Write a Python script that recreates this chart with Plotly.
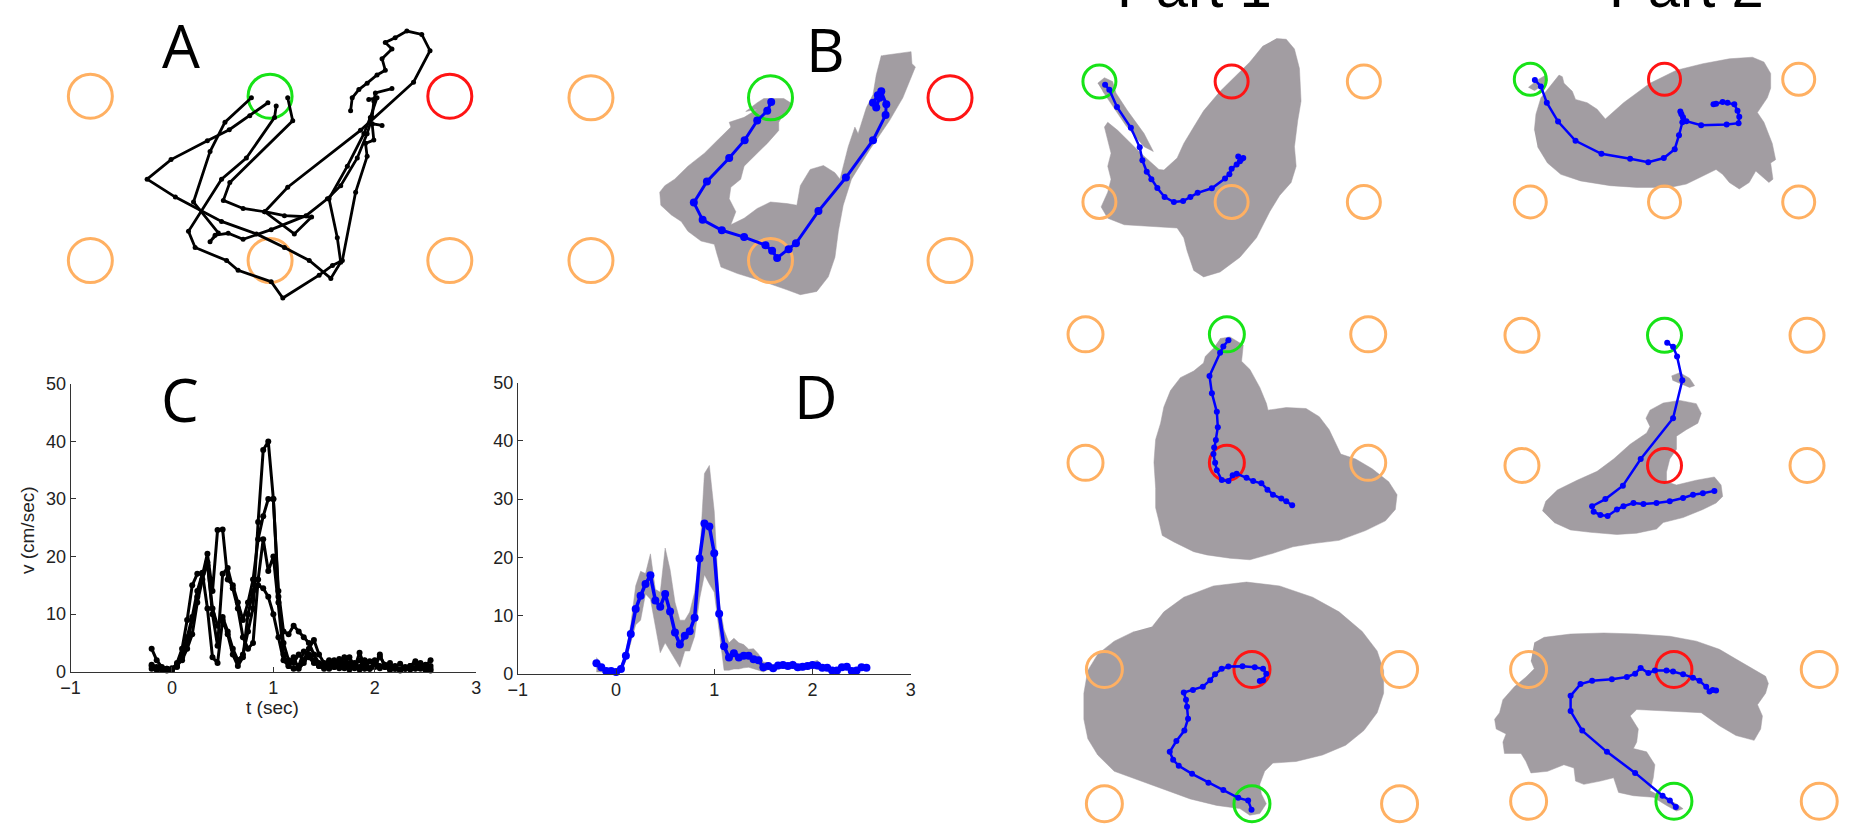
import plotly.graph_objects as go

W, H = 1854, 833

# ---------------- velocity data (panels C, D) ----------------
T = [-0.2, -0.15, -0.1, -0.05, 0.0, 0.05, 0.1, 0.15, 0.2, 0.25, 0.3, 0.35, 0.4, 0.45,
     0.5, 0.55, 0.6, 0.65, 0.7, 0.75, 0.8, 0.85, 0.9, 0.95, 1.0, 1.05, 1.1, 1.15, 1.2,
     1.25, 1.3, 1.35, 1.4, 1.45, 1.5, 1.55, 1.6, 1.65, 1.7, 1.75, 1.8, 1.85, 1.9, 1.95,
     2.0, 2.05, 2.1, 2.15, 2.2, 2.25, 2.3, 2.35, 2.4, 2.45, 2.5, 2.55]

C_trial1 = [4.0, 2.0, 0.8, 0.5, 0.3, 1.0, 3.0, 6.0, 9.5, 14.0, 17.0, 18.5, 11.0, 8.0, 9.5, 7.0,
            4.0, 2.0, 3.0, 7.0, 11.0, 26.0, 38.5, 40.0, 30.0, 14.0, 7.0, 6.5, 8.0, 7.0, 6.0,
            5.0, 3.0, 1.5, 1.0, 2.0, 0.8, 1.2, 2.5, 1.0, 0.6, 3.3, 1.0, 0.5, 2.0, 1.0, 0.8,
            1.5, 0.5, 0.3, 0.5, 1.0, 1.5, 0.5, 1.0, 2.0]
C_trial2 = [1.0, 0.5, 0.3, 0.5, 0.4, 0.8, 2.5, 5.0, 9.0, 13.0, 17.0, 20.5, 14.0, 24.6, 24.7,
            16.0, 15.0, 12.0, 9.0, 12.0, 16.0, 23.0, 27.0, 30.0, 30.0, 13.0, 5.0, 2.0, 1.5,
            3.0, 2.0, 4.0, 5.5, 3.0, 1.5, 1.0, 2.0, 0.6, 1.5, 2.5, 1.0, 2.0, 0.5, 1.8, 1.0,
            2.6, 1.2, 0.6, 0.8, 1.4, 0.5, 1.0, 1.8, 0.7, 1.2, 0.5]
C_trial3 = [1.2, 0.8, 0.5, 0.3, 0.6, 1.2, 2.0, 4.0, 6.5, 12.0, 16.0, 19.0, 10.0, 4.5, 17.0,
            18.0, 14.5, 11.0, 6.0, 4.0, 5.0, 16.0, 23.0, 17.5, 20.0, 12.0, 3.0, 1.0, 0.5,
            1.0, 3.5, 2.5, 1.5, 1.0, 0.5, 1.8, 0.8, 2.2, 1.0, 0.4, 1.5, 0.8, 2.0, 0.6, 1.0,
            3.0, 0.8, 0.5, 1.0, 0.4, 0.6, 0.9, 0.5, 1.5, 0.6, 1.0]
C_trial4 = [0.5, 0.3, 0.6, 0.2, 0.3, 1.5, 4.0, 9.0, 15.0, 17.0, 17.2, 11.0, 2.5, 1.5, 9.0,
            6.5, 3.0, 1.0, 2.5, 10.0, 14.0, 15.0, 14.5, 13.0, 10.0, 6.0, 2.0, 1.0, 2.5, 0.5,
            1.5, 3.0, 2.0, 1.0, 0.8, 0.5, 1.2, 0.8, 0.6, 1.5, 0.9, 0.4, 1.1, 0.5, 0.8, 0.6,
            1.0, 0.3, 0.5, 0.2, 0.8, 0.4, 0.6, 1.0, 0.3, 0.2]

D_mean = [1.8, 1.1, 0.45, 0.45, 0.3, 0.8, 3.1, 6.8, 11.1, 13.4, 15.4, 16.9, 12.6, 11.5, 13.7,
          10.7, 7.1, 5.0, 6.5, 7.3, 9.6, 19.8, 25.8, 25.3, 20.7, 10.3, 4.7, 2.8, 3.5, 2.8,
          3.1, 3.1, 2.5, 2.3, 1.1, 1.3, 0.95, 1.4, 1.5, 1.3, 1.5, 1.1, 1.2, 1.3, 1.5, 1.4,
          1.0, 1.0, 0.55, 0.55, 1.1, 1.2, 0.45, 0.55, 1.1, 1.0]
D_upper = [2.8, 1.6, 0.9, 0.8, 0.6, 1.3, 3.8, 8.5, 15.1, 17.6, 17.2, 20.6, 14.5, 14.0, 21.6,
           17.9, 12.3, 9.2, 9.2, 10.6, 14.0, 20.0, 34.4, 35.8, 27.9, 12.3, 7.5, 5.3, 6.1,
           5.3, 5.0, 4.2, 4.3, 3.4, 2.0, 1.9, 1.5, 1.9, 2.0, 1.8, 2.2, 1.6, 1.7, 1.8, 2.0,
           2.3, 1.4, 1.4, 0.9, 0.9, 1.5, 1.6, 0.8, 0.9, 1.4, 1.3]
D_lower = [0.3, 0.3, 0.1, 0.1, 0.0, 0.3, 2.2, 5.5, 8.4, 9.2, 13.7, 12.8, 8.0, 3.6, 5.3, 3.9,
           2.5, 1.1, 3.9, 3.9, 6.4, 12.8, 17.0, 15.4, 14.0, 7.8, 0.6, 0.6, 0.8, 0.8, 1.0,
           1.1, 0.8, 0.6, 0.3, 0.7, 0.4, 0.8, 0.9, 0.8, 0.9, 0.5, 0.6, 0.7, 0.9, 0.8, 0.5,
           0.5, 0.2, 0.2, 0.6, 0.7, 0.1, 0.2, 0.7, 0.6]

V_TICKS = [0, 10, 20, 30, 40, 50]
T_TICKS = [-1, 0, 1, 2, 3]

# ---------------- target grid (units: target spacing) ----------------
TARGET_X = [0, 1, 2, 0, 1, 2]
TARGET_Y = [1, 1, 1, 0, 0, 0]

# ---------------- panel A: single trials ----------------
A_trial1_x = [0.896, 0.749, 0.666, 0.574, 0.712, 0.666, 0.694, 0.767, 0.850, 1.006, 1.200,
              1.319, 1.393, 1.485, 1.540, 1.568, 1.577, 1.586, 1.678]
A_trial1_y = [0.990, 0.842, 0.663, 0.356, 0.168, 0.115, 0.154, 0.166, 0.129, 0.188, 0.273,
              0.376, 0.455, 0.624, 0.772, 0.871, 0.970, 1.020, 1.046]
A_trial2_x = [0.988, 0.887, 0.773, 0.651, 0.449, 0.316, 0.473, 0.730, 0.924, 1.080, 1.218,
              1.338, 1.393, 1.374, 1.328, 1.430, 1.522, 1.558, 1.595, 1.549]
A_trial2_y = [0.960, 0.881, 0.796, 0.729, 0.614, 0.495, 0.386, 0.238, 0.162, 0.079, 0.000,
              -0.109, -0.010, 0.139, 0.376, 0.574, 0.772, 0.871, 0.990, 0.980]
A_trial3_x = [1.034, 1.025, 0.868, 0.730, 0.546, 0.583, 0.758, 0.822, 1.006, 1.071, 1.273,
              1.347, 1.402, 1.476, 1.540, 1.531, 1.577, 1.568, 1.623]
A_trial3_y = [0.941, 0.871, 0.624, 0.495, 0.178, 0.079, 0.000, -0.059, -0.129, -0.228,
              -0.089, -0.030, 0.000, 0.416, 0.634, 0.713, 0.733, 0.832, 0.822]
A_trial4_x = [1.098, 1.126, 0.776, 0.740, 0.850, 0.970, 1.135, 1.231, 1.080, 0.970, 1.098,
              1.503, 1.798, 1.890, 1.844, 1.761, 1.696, 1.641, 1.678, 1.623, 1.641, 1.595,
              1.540, 1.494, 1.457, 1.448]
A_trial4_y = [0.990, 0.851, 0.475, 0.366, 0.317, 0.297, 0.162, 0.265, 0.273, 0.297, 0.446,
              0.792, 1.085, 1.277, 1.376, 1.396, 1.356, 1.327, 1.287, 1.228, 1.158, 1.129,
              1.079, 1.040, 0.990, 0.911]

# ---------------- panel B: mean path and spread ----------------
B_mean_x = [1.004, 0.982, 0.926, 0.856, 0.770, 0.646, 0.573, 0.622, 0.729, 0.853, 0.972,
            1.009, 1.037, 1.101, 1.142, 1.267, 1.420, 1.571, 1.641, 1.645, 1.617, 1.598,
            1.571, 1.589, 1.608]
B_mean_y = [0.974, 0.920, 0.860, 0.740, 0.630, 0.486, 0.356, 0.250, 0.186, 0.144, 0.094,
            0.060, 0.016, 0.070, 0.106, 0.304, 0.510, 0.740, 0.894, 0.960, 1.040, 1.016,
            0.970, 0.940, 1.000]
B_area_x = [1.626, 1.783, 1.788, 1.807, 1.737, 1.663, 1.552, 1.451, 1.405, 1.378, 1.359,
            1.322, 1.258, 1.166, 1.092, 0.963, 0.816, 0.724, 0.702, 0.687, 0.613, 0.540,
            0.503, 0.448, 0.389, 0.383, 0.411, 0.466, 0.540, 0.632, 0.696, 0.779, 0.770,
            0.853, 0.926, 0.862, 0.926, 0.963, 1.074, 1.125, 1.074, 1.046, 1.046, 0.982,
            0.926, 0.853, 0.834, 0.779, 0.770, 0.807, 0.779, 0.853, 0.926, 1.000, 1.092,
            1.147, 1.166, 1.221, 1.295, 1.359, 1.387, 1.433, 1.470, 1.488, 1.534, 1.571,
            1.589, 1.617]
B_area_y = [1.260, 1.284, 1.210, 1.190, 1.000, 0.860, 0.680, 0.500, 0.340, 0.180, 0.020,
            -0.100, -0.190, -0.210, -0.180, -0.130, -0.080, -0.040, 0.040, 0.100, 0.120,
            0.180, 0.240, 0.280, 0.340, 0.420, 0.460, 0.500, 0.580, 0.660, 0.730, 0.820,
            0.850, 0.880, 0.930, 0.916, 0.970, 0.996, 0.996, 0.960, 0.900, 0.850, 0.800,
            0.720, 0.660, 0.580, 0.500, 0.450, 0.380, 0.300, 0.220, 0.260, 0.320, 0.360,
            0.350, 0.340, 0.460, 0.560, 0.584, 0.540, 0.500, 0.700, 0.820, 0.780, 0.940,
            1.020, 1.140, 1.260]

# ---------------- right column panels ----------------
P11_mean_x = [0.043, 0.075, 0.133, 0.238, 0.305, 0.325, 0.358, 0.393, 0.438, 0.493, 0.563,
              0.633, 0.688, 0.743, 0.850, 0.950, 0.983, 1.000, 1.038, 1.063, 1.088, 1.050,
              1.075]
P11_mean_y = [0.973, 0.932, 0.789, 0.616, 0.454, 0.346, 0.251, 0.189, 0.116, 0.041, 0.000,
              0.008, 0.041, 0.076, 0.114, 0.195, 0.230, 0.276, 0.311, 0.338, 0.365, 0.378,
              0.357]
P11_area_x = [1.338, 1.413, 1.475, 1.513, 1.525, 1.500, 1.475, 1.488, 1.450, 1.363, 1.288,
              1.188, 1.063, 0.913, 0.788, 0.713, 0.663, 0.638, 0.588, 0.388, 0.188, 0.063,
              0.013, 0.063, 0.088, 0.063, 0.088, 0.038, 0.063, 0.138, 0.313, 0.450, 0.488,
              0.588, 0.638, 0.713, 0.788, 0.913, 1.013, 1.138, 1.238]
P11_area_y = [1.357, 1.351, 1.270, 1.108, 0.838, 0.676, 0.459, 0.297, 0.162, 0.054, -0.081,
              -0.297, -0.459, -0.581, -0.622, -0.568, -0.405, -0.297, -0.216, -0.203, -0.189,
              -0.135, -0.041, 0.081, 0.189, 0.297, 0.405, 0.622, 0.662, 0.595, 0.405, 0.270,
              0.265, 0.365, 0.486, 0.622, 0.757, 0.919, 1.027, 1.162, 1.297]
P11_strip_x = [-0.013, 0.038, 0.100, 0.125, 0.213, 0.338, 0.408, 0.338, 0.200, 0.088, 0.025]
P11_strip_y = [0.986, 1.032, 1.000, 0.905, 0.757, 0.568, 0.419, 0.459, 0.635, 0.811, 0.919]

P12_mean_x = [0.034, 0.079, 0.123, 0.207, 0.337, 0.530, 0.744, 0.879, 0.995, 1.076, 1.108,
              1.133, 1.126, 1.118, 1.138, 1.163, 1.273, 1.463, 1.552, 1.557, 1.544, 1.520,
              1.470, 1.433, 1.384, 1.365]
P12_mean_y = [0.995, 0.942, 0.809, 0.655, 0.499, 0.393, 0.353, 0.324, 0.358, 0.430, 0.544,
              0.650, 0.716, 0.737, 0.690, 0.658, 0.626, 0.631, 0.642, 0.695, 0.743, 0.796,
              0.809, 0.814, 0.801, 0.796]
P12_area_x = [0.030, 0.042, 0.079, 0.153, 0.214, 0.239, 0.251, 0.313, 0.337, 0.424, 0.498,
              0.559, 0.695, 0.892, 1.089, 1.286, 1.483, 1.655, 1.741, 1.791, 1.791, 1.766,
              1.692, 1.741, 1.778, 1.803, 1.828, 1.791, 1.808, 1.778, 1.680, 1.631, 1.557,
              1.483, 1.433, 1.384, 1.286, 1.163, 1.039, 0.793, 0.596, 0.374, 0.227, 0.128,
              0.054]
P12_area_y = [0.584, 0.716, 0.849, 0.955, 1.034, 1.021, 0.968, 0.902, 0.836, 0.809, 0.756,
              0.676, 0.809, 0.968, 1.074, 1.127, 1.167, 1.180, 1.141, 1.048, 0.928, 0.849,
              0.729, 0.650, 0.544, 0.477, 0.345, 0.318, 0.186, 0.159, 0.252, 0.159, 0.106,
              0.159, 0.225, 0.265, 0.212, 0.146, 0.119, 0.119, 0.133, 0.172, 0.225, 0.318,
              0.451]
P12_spike_x = [-0.015, 0.054, 0.116, 0.128, 0.079, 0.030]
P12_spike_y = [0.934, 0.995, 1.034, 0.987, 0.942, 0.907]

P21_mean_x = [1.011, 0.975, 0.952, 0.877, 0.894, 0.929, 0.936, 0.922, 0.910, 0.905, 0.917,
              0.929, 0.964, 1.011, 1.041, 1.069, 1.139, 1.186, 1.244, 1.287, 1.326, 1.385,
              1.420, 1.462]
P21_mean_y = [0.954, 0.906, 0.856, 0.676, 0.542, 0.397, 0.278, 0.177, 0.119, 0.068, 0.000,
              -0.058, -0.134, -0.142, -0.096, -0.084, -0.116, -0.142, -0.159, -0.210, -0.248,
              -0.278, -0.299, -0.329]
P21_area_x = [0.952, 1.022, 1.116, 1.104, 1.163, 1.233, 1.280, 1.291, 1.420, 1.560, 1.654,
              1.724, 1.806, 1.911, 2.028, 2.145, 2.204, 2.192, 2.122, 1.981, 1.794, 1.607,
              1.467, 1.326, 1.163, 1.022, 0.858, 0.765, 0.625, 0.543, 0.519, 0.496, 0.496,
              0.484, 0.496, 0.531, 0.554, 0.601, 0.671, 0.765, 0.835, 0.847, 0.905]
P21_area_y = [0.967, 0.980, 0.916, 0.790, 0.727, 0.587, 0.461, 0.410, 0.430, 0.423, 0.359,
              0.258, 0.068, 0.030, -0.046, -0.147, -0.248, -0.362, -0.451, -0.527, -0.603,
              -0.628, -0.653, -0.704, -0.754, -0.742, -0.716, -0.691, -0.615, -0.565, -0.451,
              -0.349, -0.197, 0.005, 0.182, 0.309, 0.435, 0.562, 0.663, 0.714, 0.777, 0.828,
              0.891]

P22_mean_x = [1.019, 1.060, 1.088, 1.125, 1.060, 0.833, 0.708, 0.585, 0.492, 0.503, 0.550,
              0.601, 0.666, 0.712, 0.782, 0.852, 0.944, 1.037, 1.130, 1.200, 1.269, 1.350]
P22_mean_y = [0.943, 0.913, 0.838, 0.655, 0.363, 0.050, -0.155, -0.258, -0.313, -0.355,
              -0.380, -0.388, -0.338, -0.313, -0.288, -0.295, -0.288, -0.275, -0.250, -0.225,
              -0.213, -0.195]
P22_area_x = [0.144, 0.167, 0.248, 0.387, 0.527, 0.643, 0.759, 0.875, 0.898, 0.870, 0.898,
              0.991, 1.107, 1.223, 1.258, 1.234, 1.153, 1.084, 1.084, 1.037, 1.014, 1.014,
              1.084, 1.223, 1.350, 1.397, 1.408, 1.362, 1.269, 1.130, 0.991, 0.944, 0.805,
              0.666, 0.480, 0.341, 0.225]
P22_area_y = [-0.350, -0.275, -0.188, -0.113, -0.045, 0.050, 0.163, 0.250, 0.300, 0.363,
              0.425, 0.480, 0.500, 0.475, 0.400, 0.325, 0.275, 0.225, 0.125, 0.050, -0.050,
              -0.125, -0.150, -0.113, -0.088, -0.150, -0.238, -0.288, -0.338, -0.400, -0.438,
              -0.488, -0.520, -0.530, -0.513, -0.495, -0.438]
P22_spot_x = [1.049, 1.107, 1.176, 1.211, 1.176, 1.107, 1.056]
P22_spot_y = [0.688, 0.713, 0.670, 0.613, 0.600, 0.630, 0.655]

P31_mean_x = [0.997, 0.974, 0.907, 0.806, 0.705, 0.594, 0.504, 0.466, 0.443, 0.488, 0.542,
              0.567, 0.560, 0.553, 0.538, 0.600, 0.667, 0.717, 0.750, 0.795, 0.840, 0.936,
              1.019, 1.075, 1.097, 1.075, 1.053]
P31_mean_y = [-0.044, 0.024, 0.044, 0.102, 0.157, 0.223, 0.283, 0.327, 0.387, 0.467, 0.545,
              0.634, 0.722, 0.775, 0.828, 0.847, 0.872, 0.920, 0.964, 1.005, 1.022, 1.024,
              1.017, 1.005, 0.969, 0.920, 0.915]
P31_area_x = [0.325, 0.403, 0.538, 0.739, 0.963, 1.187, 1.411, 1.590, 1.747, 1.848, 1.892,
              1.892, 1.848, 1.758, 1.635, 1.478, 1.299, 1.142, 1.086, 1.053, 1.064, 1.097,
              1.053, 0.985, 0.918, 0.761, 0.582, 0.426, 0.246, 0.067, -0.045, -0.112, -0.139,
              -0.139, -0.112, -0.045, 0.067, 0.202]
P31_area_y = [1.320, 1.429, 1.538, 1.622, 1.651, 1.622, 1.538, 1.429, 1.283, 1.138, 0.993,
              0.823, 0.678, 0.545, 0.436, 0.363, 0.315, 0.303, 0.242, 0.145, 0.073, 0.000,
              -0.073, -0.085, -0.036, -0.012, 0.036, 0.097, 0.169, 0.242, 0.363, 0.484, 0.630,
              0.823, 0.993, 1.114, 1.211, 1.283]

P32_mean_x = [1.013, 0.972, 0.922, 0.733, 0.539, 0.369, 0.289, 0.289, 0.357, 0.437, 0.573,
              0.676, 0.733, 0.771, 0.824, 0.869, 0.949, 0.994, 1.063, 1.131, 1.176, 1.222,
              1.245, 1.267, 1.290]
P32_mean_y = [-0.044, 0.005, 0.042, 0.215, 0.375, 0.536, 0.684, 0.800, 0.889, 0.914, 0.926,
              0.943, 0.968, 1.012, 0.973, 0.993, 0.993, 0.985, 0.963, 0.938, 0.914, 0.869,
              0.832, 0.844, 0.840]
P32_area_x = [0.039, 0.107, 0.289, 0.517, 0.744, 0.972, 1.154, 1.313, 1.427, 1.540, 1.631,
              1.650, 1.631, 1.575, 1.609, 1.597, 1.552, 1.427, 1.313, 1.188, 0.972, 0.744,
              0.699, 0.755, 0.744, 0.721, 0.812, 0.869, 0.858, 0.835, 0.881, 1.017, 1.063,
              1.017, 0.949, 0.858, 0.721, 0.619, 0.585, 0.494, 0.380, 0.323, 0.312, 0.243,
              0.130, 0.016, -0.018, -0.052, -0.166, -0.177, -0.155, -0.223, -0.234, -0.200,
              -0.177, -0.098, -0.018, 0.039, 0.016]
P32_area_y = [1.202, 1.244, 1.269, 1.277, 1.269, 1.252, 1.215, 1.153, 1.079, 1.005, 0.948,
              0.894, 0.820, 0.733, 0.647, 0.548, 0.462, 0.499, 0.573, 0.672, 0.684, 0.696,
              0.647, 0.548, 0.449, 0.400, 0.375, 0.277, 0.178, 0.079, 0.054, -0.020, -0.057,
              -0.074, -0.032, 0.030, 0.042, 0.067, 0.178, 0.153, 0.128, 0.153, 0.252, 0.277,
              0.227, 0.215, 0.301, 0.363, 0.363, 0.449, 0.511, 0.548, 0.622, 0.672, 0.770,
              0.869, 0.943, 1.005, 1.067]

# ---------------- styling / layout ----------------
ORANGE = "#ffb062"
GREEN = "#17e317"
RED = "#ff1414"
GREY = "#a29da2"
BLUE = "#0000ff"
AX = "#333333"

COLORS_TOP_START = [ORANGE, GREEN, RED, ORANGE, ORANGE, ORANGE]
COLORS_CORNER = [GREEN, RED, ORANGE, ORANGE, ORANGE, ORANGE]
COLORS_MID = [ORANGE, GREEN, ORANGE, ORANGE, RED, ORANGE]
COLORS_LOW = [ORANGE, RED, ORANGE, ORANGE, GREEN, ORANGE]

# panel boxes in pixels: (x0, x1, y0, y1), grid column-0 x, column spacing, top row y, bottom row y
PANELS = {
    1: dict(box=(0, 520, 0, 320), c0=81, sx=181.2, rt=88.3, rb=256.7, ring=44, colors=COLORS_TOP_START),
    2: dict(box=(520, 1040, 0, 320), c0=585.7, sx=181.0, rt=90.0, rb=256.7, ring=44, colors=COLORS_TOP_START),
    5: dict(box=(1040, 1450, 0, 290), c0=1098.3, sx=133.3, rt=73.3, rb=196.7, ring=33, colors=COLORS_CORNER),
    6: dict(box=(1450, 1854, 0, 290), c0=1532.7, sx=135.3, rt=71.0, rb=196.7, ring=32, colors=COLORS_CORNER),
    7: dict(box=(1040, 1450, 282, 566), c0=1084.3, sx=142.5, rt=332.3, rb=464.0, ring=35, colors=COLORS_MID),
    8: dict(box=(1450, 1854, 282, 566), c0=1524.3, sx=143.7, rt=333.3, rb=466.7, ring=34, colors=COLORS_MID),
    9: dict(box=(1040, 1450, 566, 833), c0=1103.3, sx=148.8, rt=675.7, rb=813.3, ring=36, colors=COLORS_LOW),
    10: dict(box=(1450, 1854, 566, 833), c0=1531.0, sx=146.5, rt=675.7, rb=810.7, ring=36, colors=COLORS_LOW),
}


def ax_names(i):
    return ("x" if i == 1 else f"x{i}", "y" if i == 1 else f"y{i}")


fig = go.Figure()


def add_area(i, xs, ys):
    xa, ya = ax_names(i)
    fig.add_trace(go.Scatter(x=xs, y=ys, mode="lines", fill="toself", fillcolor=GREY,
                             line=dict(color=GREY, width=0.5), xaxis=xa, yaxis=ya,
                             hoverinfo="skip"))


def add_targets(i):
    xa, ya = ax_names(i)
    p = PANELS[i]
    fig.add_trace(go.Scatter(x=TARGET_X, y=TARGET_Y, mode="markers", xaxis=xa, yaxis=ya,
                             cliponaxis=False,
                             marker=dict(symbol="circle-open", size=p["ring"], color=p["colors"],
                                         line=dict(width=3, color=p["colors"]))))


def add_path(i, xs, ys, color, lw, ms):
    xa, ya = ax_names(i)
    fig.add_trace(go.Scatter(x=xs, y=ys, mode="lines+markers", xaxis=xa, yaxis=ya,
                             cliponaxis=False,
                             line=dict(color=color, width=lw),
                             marker=dict(color=color, size=ms)))


# Panel A
add_targets(1)
for xs, ys in [(A_trial1_x, A_trial1_y), (A_trial2_x, A_trial2_y),
               (A_trial3_x, A_trial3_y), (A_trial4_x, A_trial4_y)]:
    add_path(1, xs, ys, "black", 2.8, 5)

# Panel B
add_area(2, B_area_x, B_area_y)
add_targets(2)
add_path(2, B_mean_x, B_mean_y, BLUE, 3, 8)

# Right panels
add_area(5, P11_area_x, P11_area_y)
add_area(5, P11_strip_x, P11_strip_y)
add_targets(5)
add_path(5, P11_mean_x, P11_mean_y, BLUE, 2.5, 6)

add_area(6, P12_area_x, P12_area_y)
add_area(6, P12_spike_x, P12_spike_y)
add_targets(6)
add_path(6, P12_mean_x, P12_mean_y, BLUE, 2.5, 6)

add_area(7, P21_area_x, P21_area_y)
add_targets(7)
add_path(7, P21_mean_x, P21_mean_y, BLUE, 2.5, 6)

add_area(8, P22_area_x, P22_area_y)
add_area(8, P22_spot_x, P22_spot_y)
add_targets(8)
add_path(8, P22_mean_x, P22_mean_y, BLUE, 2.5, 6)

add_area(9, P31_area_x, P31_area_y)
add_targets(9)
add_path(9, P31_mean_x, P31_mean_y, BLUE, 2.5, 6)

add_area(10, P32_area_x, P32_area_y)
add_targets(10)
add_path(10, P32_mean_x, P32_mean_y, BLUE, 2.5, 6)

# Panel C
for trial in [C_trial1, C_trial2, C_trial3, C_trial4]:
    fig.add_trace(go.Scatter(x=T, y=trial, mode="lines+markers", xaxis="x3", yaxis="y3",
                             cliponaxis=False,
                             line=dict(color="black", width=3), marker=dict(color="black", size=6)))

# Panel D
fig.add_trace(go.Scatter(x=T + T[::-1], y=D_upper + D_lower[::-1], mode="lines", fill="toself",
                         fillcolor=GREY, line=dict(color=GREY, width=0.5),
                         xaxis="x4", yaxis="y4", hoverinfo="skip"))
fig.add_trace(go.Scatter(x=T, y=D_mean, mode="lines+markers", xaxis="x4", yaxis="y4",
                         cliponaxis=False,
                         line=dict(color=BLUE, width=3.5), marker=dict(color=BLUE, size=8)))

layout = dict(width=W, height=H, margin=dict(l=0, r=0, t=0, b=0),
              paper_bgcolor="white", plot_bgcolor="rgba(0,0,0,0)", showlegend=False)

for i, p in PANELS.items():
    x0, x1, y0, y1 = p["box"]
    sy = p["rb"] - p["rt"]
    xr = [(x0 - p["c0"]) / p["sx"], (x1 - p["c0"]) / p["sx"]]
    yr = [(p["rb"] - y1) / sy, (p["rb"] - y0) / sy]
    xk = "xaxis" if i == 1 else f"xaxis{i}"
    yk = "yaxis" if i == 1 else f"yaxis{i}"
    xa, ya = ax_names(i)
    layout[xk] = dict(domain=[x0 / W, x1 / W], range=xr, visible=False, anchor=ya, fixedrange=True)
    layout[yk] = dict(domain=[1 - y1 / H, 1 - y0 / H], range=yr, visible=False, anchor=xa,
                      fixedrange=True)

tickfont = dict(family="Liberation Sans, Arial, sans-serif", size=18, color="#222222")
axis_common = dict(showline=True, linecolor=AX, linewidth=1, ticks="inside", ticklen=5,
                   tickcolor=AX, tickwidth=1, showgrid=False, zeroline=False, tickfont=tickfont,
                   fixedrange=True)

layout["xaxis3"] = dict(domain=[61 / W, 470 / W], range=[-1, 3], tickvals=T_TICKS, anchor="y3",
                        **axis_common)
layout["yaxis3"] = dict(domain=[1 - 678 / H, 1 - 383 / H], range=[0, 50], tickvals=V_TICKS,
                        anchor="x3", **axis_common)
layout["xaxis4"] = dict(domain=[512 / W, 908 / W], range=[-1, 3], tickvals=T_TICKS, anchor="y4",
                        **axis_common)
layout["yaxis4"] = dict(domain=[1 - 680 / H, 1 - 382 / H], range=[0, 50], tickvals=V_TICKS,
                        anchor="x4", **axis_common)

letter_font = dict(family="Open Sans, sans-serif", size=60, color="black")
title_font = dict(family="Liberation Sans, Arial, sans-serif", size=58, color="black")
label_font = dict(family="Liberation Sans, Arial, sans-serif", size=19, color="#222222")

annotations = []
for txt, px, py in [("A", 172, 36), ("B", 822, 40), ("C", 171, 399), ("D", 813, 396)]:
    annotations.append(dict(text=txt, x=px / W, y=1 - py / H, xref="paper", yref="paper",
                            xanchor="center", yanchor="middle", showarrow=False, font=letter_font))
for txt, px in [("Part 1", 1194), ("Part 2", 1690)]:
    annotations.append(dict(text=txt, x=px / W, y=1 - 11 / H, xref="paper", yref="paper",
                            xanchor="center", yanchor="bottom", showarrow=False, font=title_font))
annotations.append(dict(text="t (sec)", x=265 / W, y=1 - 715 / H, xref="paper", yref="paper",
                        xanchor="center", yanchor="middle", showarrow=False, font=label_font))
annotations.append(dict(text="v (cm/sec)", x=17 / W, y=1 - 533 / H, xref="paper", yref="paper",
                        xanchor="center", yanchor="middle", showarrow=False, textangle=-90,
                        font=label_font))
layout["annotations"] = annotations

fig.update_layout(**layout)
fig.write_html("out.html")
